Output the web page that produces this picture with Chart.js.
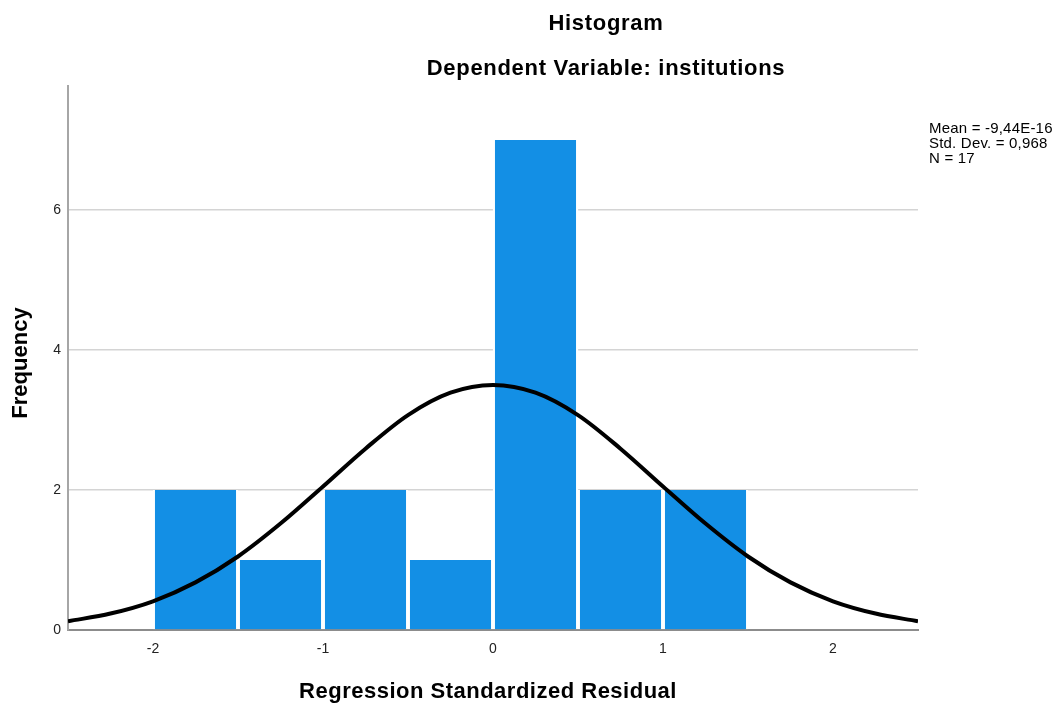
<!DOCTYPE html>
<html>
<head>
<meta charset="utf-8">
<script src="https://cdn.jsdelivr.net/npm/chart.js@4/dist/chart.umd.min.js"></script>
<style>
  html, body { margin: 0; padding: 0; background: #ffffff; }
  #wrap { width: 1059px; height: 707px; position: relative; }
</style>
</head>
<body>
<div id="wrap"><canvas id="c" width="1059" height="707"></canvas></div>
<script>
// ---- Data ----
const binStarts = [-2, -1.5, -1, -0.5, 0, 0.5, 1];
const binWidth = 0.5;
const frequencies = [2, 1, 2, 1, 7, 2, 2];

const curveX = [-2.5, -2.25, -2, -1.75, -1.5, -1.25, -1, -0.75, -0.5, -0.25, 0,
                0.25, 0.5, 0.75, 1, 1.25, 1.5, 1.75, 2, 2.25, 2.5];
const curveY = [0.125, 0.235, 0.41, 0.68, 1.05, 1.52, 2.05, 2.59, 3.07, 3.39, 3.50,
                3.39, 3.07, 2.59, 2.05, 1.52, 1.05, 0.68, 0.41, 0.235, 0.125];

const xTicks = [-2, -1, 0, 1, 2];
const yTicks = [0, 2, 4, 6];

const titleText = 'Histogram';
const subtitleText = 'Dependent Variable: institutions';
const xTitle = 'Regression Standardized Residual';
const yTitle = 'Frequency';
const statsLines = ['Mean = -9,44E-16', 'Std. Dev. = 0,968', 'N = 17'];

// ---- Build datasets ----
const barPoints = binStarts.map((s, i) => ({ x: s + binWidth / 2, y: frequencies[i] }));
const curvePoints = curveX.map((x, i) => ({ x: x, y: curveY[i] }));

const FONT = '"Liberation Sans", Arial, sans-serif';

const textPlugin = {
  id: 'texts',
  afterDraw(chart) {
    const ctx = chart.ctx;
    ctx.save();
    ctx.fillStyle = '#000';
    ctx.textBaseline = 'alphabetic';
    ctx.textAlign = 'center';
    ctx.font = 'bold 22px ' + FONT;
    ctx.letterSpacing = '0.7px';
    ctx.fillText(titleText, 606, 30);
    ctx.fillText(subtitleText, 606, 75);
    ctx.letterSpacing = '0.5px';
    ctx.fillText(xTitle, 488, 698);
    ctx.letterSpacing = '0px';
    ctx.save();
    ctx.translate(27, 363);
    ctx.rotate(-Math.PI / 2);
    ctx.fillText(yTitle, 0, 0);
    ctx.restore();
    ctx.textAlign = 'left';
    ctx.font = '15px ' + FONT;
    ctx.letterSpacing = '0.2px';
    statsLines.forEach((t, i) => ctx.fillText(t, 929, 132.5 + i * 15));
    ctx.restore();
  }
};

new Chart(document.getElementById('c'), {
  type: 'bar',
  data: {
    datasets: [
      {
        type: 'line',
        data: curvePoints,
        borderColor: '#000000',
        borderWidth: 4,
        pointRadius: 0,
        fill: false,
        cubicInterpolationMode: 'monotone',
        order: 0
      },
      {
        type: 'bar',
        data: barPoints,
        backgroundColor: '#138FE5',
        borderColor: '#ffffff',
        borderWidth: { left: 2.3, right: 2.3, top: 0, bottom: 0 },
        borderSkipped: false,
        barPercentage: 1,
        categoryPercentage: 1,
        order: 1
      }
    ]
  },
  options: {
    responsive: false,
    animation: false,
    events: [],
    layout: { padding: { left: 0, top: 86, right: 141, bottom: 0 } },
    plugins: { legend: { display: false }, tooltip: { enabled: false }, title: { display: false } },
    scales: {
      x: {
        type: 'linear',
        min: -2.5,
        max: 2.5,
        offset: false,
        afterFit(scale) { scale.height = 77; },
        afterBuildTicks(scale) { scale.ticks = xTicks.map(v => ({ value: v })); },
        ticks: { font: { family: FONT, size: 14 }, color: '#222', padding: 11, maxRotation: 0,
                 callback: v => String(v) },
        grid: { display: false, drawTicks: false, offset: false },
        border: { display: true, color: '#8c8c8c', width: 2 }
      },
      y: {
        type: 'linear',
        min: 0,
        max: 7.77,
        afterFit(scale) { scale.width = 68; },
        afterBuildTicks(scale) { scale.ticks = yTicks.map(v => ({ value: v })); },
        ticks: { font: { family: FONT, size: 14 }, color: '#222', padding: 7,
                 callback: v => String(v) },
        grid: { color: '#d4d4d4', lineWidth: 1.5, drawTicks: false },
        border: { display: true, color: '#a6a6a6', width: 2 }
      }
    }
  },
  plugins: [textPlugin]
});
</script>
</body>
</html>
